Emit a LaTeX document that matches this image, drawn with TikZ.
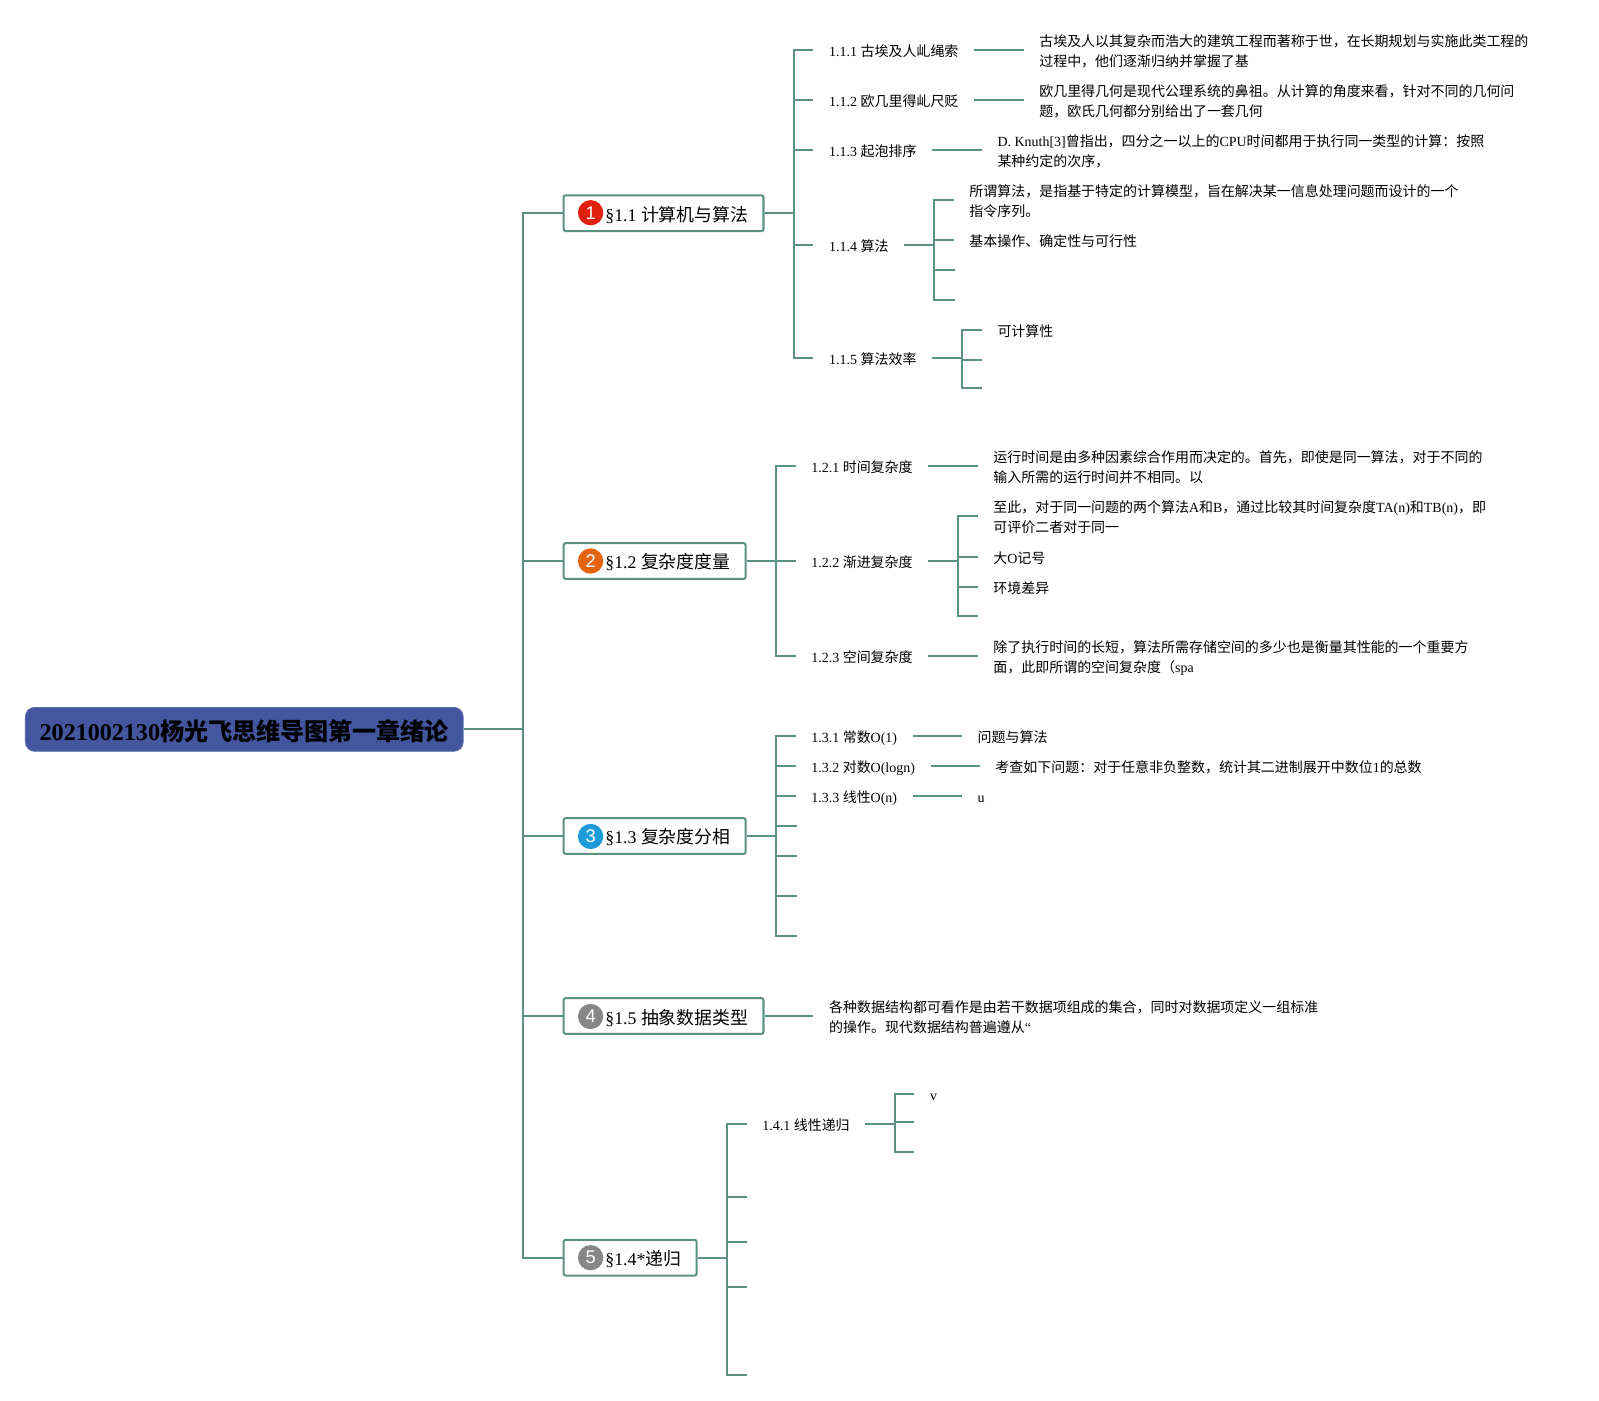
\documentclass[tikz,border=0pt]{standalone}
\usepackage{fontspec}
\setmainfont{Liberation Serif}
\setsansfont{Liberation Sans}
\newfontfamily\cjk{Noto Sans CJK SC}
\newcommand\zh[1]{{\cjk #1}}
\definecolor{linkc}{HTML}{5B9085}
\definecolor{rootc}{HTML}{43569F}
\definecolor{rootb}{HTML}{5E6FB0}
\definecolor{bred}{HTML}{E0200D}
\definecolor{borange}{HTML}{E4630F}
\definecolor{bblue}{HTML}{1D9AD8}
\definecolor{bgray}{HTML}{878787}
\tikzset{
  conn/.style={draw=linkc,line width=1pt},
  rootbox/.style={anchor=west,fill=rootc,draw=rootb,line width=.4pt,rounded corners=4.5pt,minimum height=21.5pt,inner xsep=7pt,inner ysep=0pt,text height=12pt,text depth=1pt,font=\fontsize{11.8}{14}\selectfont\bfseries},
  topic/.style={anchor=west,draw=linkc,fill=white,line width=1pt,rounded corners=1pt,minimum height=17.5pt,inner xsep=7.5pt,inner ysep=0pt,text height=8.8pt,text depth=1pt,font=\fontsize{8.75}{11}\selectfont},
  badge/.style={circle,inner sep=0pt,minimum size=12.4pt,text=white,font=\sffamily\fontsize{9}{9}\selectfont},
  leaf/.style={anchor=west,inner xsep=7.5pt,inner ysep=0pt,align=left,text height=7.2pt,text depth=1pt,font=\fontsize{6.85}{9.75}\selectfont},
  leaftwo/.style={leaf,text height=17.2pt,text depth=1pt},
}
\newcommand\fork[3]{\draw[conn] (#1.east) -- (#2 |- #1.east) |- (#3);}
\newcommand\tie[2]{\draw[conn] (#1.east) -- (#2.west);}
\begin{document}
\begin{tikzpicture}[x=0.5pt,y=-0.5pt]
\useasboundingbox (0,0) rectangle (1567.6,1372.5);
% trunks
\coordinate (t0) at (513,0);
\coordinate (t1) at (778.5,0);
\coordinate (t2) at (761,0);
\coordinate (t3) at (761,0);
\coordinate (t5) at (712.75,0);
\coordinate (t14) at (916,0);
\coordinate (t15) at (943.1,0);
\coordinate (t22) at (939.5,0);
\coordinate (t41) at (877.5,0);
% root and topics
\node[rootbox] (root) at (24.5,715) {2021002130\zh{杨光飞思维导图第一章绪论}};
\node[topic] (n1) at (551.5,209) {\hspace{13pt}§1.1 \zh{计算机与算法}};
\node[topic] (n2) at (551.5,550) {\hspace{13pt}§1.2 \zh{复杂度度量}};
\node[topic] (n3) at (551.5,819.6) {\hspace{13pt}§1.3 \zh{复杂度分相}};
\node[topic] (n4) at (551.5,996.08) {\hspace{13pt}§1.5 \zh{抽象数据类型}};
\node[topic] (n5) at (551.5,1233) {\hspace{13pt}§1.4*\zh{递归}};
\node[badge,fill=bred] (b1) at (579,208.5) {1};
\node[badge,fill=borange] (b2) at (579,550) {2};
\node[badge,fill=bblue] (b3) at (579,820) {3};
\node[badge,fill=bgray] (b4) at (579,996.5) {4};
\node[badge,fill=bgray] (b5) at (579,1233) {5};
% section 1.1
\node[leaf] (l111) at (797.5,49) {1.1.1 \zh{古埃及人乢绳索}};
\node[leaf] (l112) at (797.5,98) {1.1.2 \zh{欧几里得乢尺贬}};
\node[leaf] (l113) at (797.5,147) {1.1.3 \zh{起泡排序}};
\node[leaf] (l114) at (797.5,240) {1.1.4 \zh{算法}};
\node[leaf] (l115) at (797.5,351) {1.1.5 \zh{算法效率}};
\node[leaftwo] (d111) at (1003.5,49) {\zh{古埃及人以其复杂而浩大的建筑工程而著称于世，在长期规划与实施此类工程的}\\\zh{过程中，他们逐渐归纳并掌握了基}};
\node[leaftwo] (d112) at (1003.5,98) {\zh{欧几里得几何是现代公理系统的鼻祖。从计算的角度来看，针对不同的几何问}\\\zh{题，欧氏几何都分别给出了一套几何}};
\node[leaftwo] (d113) at (962.5,147) {D. Knuth[3]\zh{曾指出，四分之一以上的}CPU\zh{时间都用于执行同一类型的计算：按照}\\\zh{某种约定的次序，}};
\node[leaftwo] (d141) at (935,196.08) {\zh{所谓算法，是指基于特定的计算模型，旨在解决某一信息处理问题而设计的一个}\\\zh{指令序列。}};
\node[leaf] (d142) at (935,235) {\zh{基本操作、确定性与可行性}};
\coordinate (e143) at (936,265);
\coordinate (e144) at (936,294);
\node[leaf] (d151) at (962.5,323.5) {\zh{可计算性}};
\coordinate (e152) at (963,352.9);
\coordinate (e153) at (963,380.5);
\fork{n1}{t1}{l111.west}
\fork{n1}{t1}{l112.west}
\fork{n1}{t1}{l113.west}
\fork{n1}{t1}{l114.west}
\fork{n1}{t1}{l115.west}
\tie{l111}{d111}
\tie{l112}{d112}
\tie{l113}{d113}
\fork{l114}{t14}{d141.west}
\fork{l114}{t14}{d142.west}
\fork{l114}{t14}{e143}
\fork{l114}{t14}{e144}
\fork{l115}{t15}{d151.west}
\fork{l115}{t15}{e152}
\fork{l115}{t15}{e153}
% section 1.2
\node[leaf] (l121) at (780,457) {1.2.1 \zh{时间复杂度}};
\node[leaf] (l122) at (780,550) {1.2.2 \zh{渐进复杂度}};
\node[leaf] (l123) at (780,643) {1.2.3 \zh{空间复杂度}};
\node[leaftwo] (d121) at (958.5,457) {\zh{运行时间是由多种因素综合作用而决定的。首先，即使是同一算法，对于不同的}\\\zh{输入所需的运行时间并不相同。以}};
\node[leaftwo] (d221) at (958.5,506) {\zh{至此，对于同一问题的两个算法}A\zh{和}B\zh{，通过比较其时间复杂度}TA(n)\zh{和}TB(n)\zh{，即}\\\zh{可评价二者对于同一}};
\node[leaf] (d222) at (958.5,546) {\zh{大}O\zh{记号}};
\node[leaf] (d223) at (958.5,575.5) {\zh{环境差异}};
\coordinate (e224) at (959,604);
\node[leaftwo] (d123) at (958.5,643) {\zh{除了执行时间的长短，算法所需存储空间的多少也是衡量其性能的一个重要方}\\\zh{面，此即所谓的空间复杂度（}spa};
\fork{n2}{t2}{l121.west}
\fork{n2}{t2}{l122.west}
\fork{n2}{t2}{l123.west}
\tie{l121}{d121}
\fork{l122}{t22}{d221.west}
\fork{l122}{t22}{d222.west}
\fork{l122}{t22}{d223.west}
\fork{l122}{t22}{e224}
\tie{l123}{d123}
% section 1.3
\node[leaf] (l131) at (780,721.5) {1.3.1 \zh{常数}O(1)};
\node[leaf] (l132) at (780,751) {1.3.2 \zh{对数}O(logn)};
\node[leaf] (l133) at (780,780.5) {1.3.3 \zh{线性}O(n)};
\coordinate (e134) at (781,810);
\coordinate (e135) at (781,839);
\coordinate (e136) at (781,878.5);
\coordinate (e137) at (781,917.5);
\node[leaf] (d131) at (943,721.5) {\zh{问题与算法}};
\node[leaf] (d132) at (960.5,751) {\zh{考查如下问题：对于任意非负整数，统计其二进制展开中数位}1\zh{的总数}};
\node[leaf] (d133) at (943,780.5) {u};
\fork{n3}{t3}{l131.west}
\fork{n3}{t3}{l132.west}
\fork{n3}{t3}{l133.west}
\fork{n3}{t3}{e134}
\fork{n3}{t3}{e135}
\fork{n3}{t3}{e136}
\fork{n3}{t3}{e137}
\tie{l131}{d131}
\tie{l132}{d132}
\tie{l133}{d133}
% section 1.5
\node[leaftwo] (d151x) at (797.5,996.08) {\zh{各种数据结构都可看作是由若干数据项组成的集合，同时对数据项定义一组标准}\\\zh{的操作。现代数据结构普遍遵从}“};
\tie{n4}{d151x}
% section 1.4
\node[leaf] (l141) at (732,1102) {1.4.1 \zh{线性递归}};
\coordinate (e142) at (732.5,1173.5);
\coordinate (e143b) at (732.5,1217.5);
\coordinate (e144b) at (732.5,1261.5);
\coordinate (e145) at (732.5,1348.04);
\node[leaf] (d411) at (896.5,1072.5) {v};
\coordinate (e412) at (896.5,1100);
\coordinate (e413) at (896.5,1129.5);
\fork{n5}{t5}{l141.west}
\fork{n5}{t5}{e142}
\fork{n5}{t5}{e143b}
\fork{n5}{t5}{e144b}
\fork{n5}{t5}{e145}
\fork{l141}{t41}{d411.west}
\fork{l141}{t41}{e412}
\fork{l141}{t41}{e413}
% root links
\fork{root}{t0}{n1.west}
\fork{root}{t0}{n2.west}
\fork{root}{t0}{n3.west}
\fork{root}{t0}{n4.west}
\fork{root}{t0}{n5.west}
\end{tikzpicture}
\end{document}
